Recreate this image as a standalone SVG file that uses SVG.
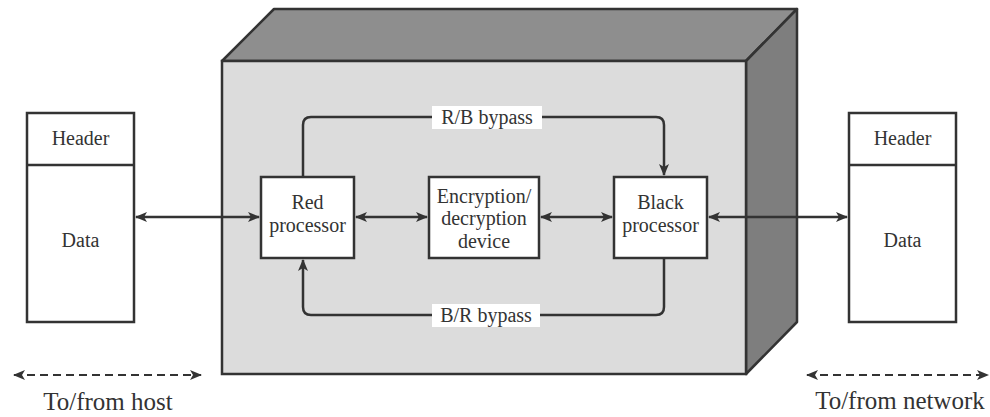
<svg xmlns="http://www.w3.org/2000/svg" width="990" height="417" viewBox="0 0 990 417">
<style>
.t{font-family:"Liberation Serif","Times New Roman",serif;font-size:20px;fill:#333;text-anchor:middle}
.big{font-size:25px}
.box{fill:#fff;stroke:#333;stroke-width:2.5}
.ln{fill:none;stroke:#333;stroke-width:2.5}
.dash{fill:none;stroke:#333;stroke-width:2.2;stroke-dasharray:8 5}
</style>
<defs>
<marker id="ah" viewBox="0 0 12 10" refX="11" refY="5" markerWidth="12" markerHeight="10" markerUnits="userSpaceOnUse" orient="auto-start-reverse">
<path d="M0,0 L12,5 L0,10 L3,5 Z" fill="#333"/>
</marker>
</defs>
<rect width="990" height="417" fill="#fff"/>
<g id="enclosure">
<polygon points="222,61 274,9 797,9 746,61" fill="#8e8e8e" stroke="#333" stroke-width="2.5" stroke-linejoin="round"/>
<polygon points="746,61 797,9 797,322 746,374" fill="#7e7e7e" stroke="#333" stroke-width="2.5" stroke-linejoin="round"/>
<rect x="222" y="61" width="524" height="313" fill="#dcdcdc" stroke="#333" stroke-width="2.5"/>
</g>
<g id="connectors">
<path class="ln" d="M303,177 V125 Q303,117 311,117 H656 Q664,117 664,125 V175" marker-end="url(#ah)"/>
<path class="ln" d="M664,258 V307 Q664,315 656,315 H311 Q303,315 303,307 V260" marker-end="url(#ah)"/>
<line class="ln" x1="136" y1="217" x2="259" y2="217" marker-start="url(#ah)" marker-end="url(#ah)"/>
<line class="ln" x1="356" y1="217" x2="427" y2="217" marker-start="url(#ah)" marker-end="url(#ah)"/>
<line class="ln" x1="541" y1="217" x2="612" y2="217" marker-start="url(#ah)" marker-end="url(#ah)"/>
<line class="ln" x1="709" y1="217" x2="847" y2="217" marker-start="url(#ah)" marker-end="url(#ah)"/>
<line class="dash" x1="14" y1="375" x2="201" y2="375" marker-start="url(#ah)" marker-end="url(#ah)"/>
<line class="dash" x1="807" y1="375" x2="988" y2="375" marker-start="url(#ah)" marker-end="url(#ah)"/>
<rect x="432" y="106" width="110" height="23" fill="#fff"/>
<text class="t" x="487" y="124">R/B bypass</text>
<rect x="432" y="304" width="108" height="23" fill="#fff"/>
<text class="t" x="486" y="322">B/R bypass</text>
</g>
<g id="host-packet">
<rect class="box" x="27" y="113" width="107" height="209"/>
<line class="ln" x1="27" y1="165" x2="134" y2="165"/>
<text class="t" x="80.5" y="145">Header</text>
<text class="t" x="80.5" y="247">Data</text>
</g>
<g id="network-packet">
<rect class="box" x="849" y="113" width="107" height="209"/>
<line class="ln" x1="849" y1="165" x2="956" y2="165"/>
<text class="t" x="902.5" y="145">Header</text>
<text class="t" x="902.5" y="247">Data</text>
</g>
<g id="red-processor">
<rect class="box" x="261" y="177" width="93" height="81"/>
<text class="t" x="307.5" y="209">Red</text>
<text class="t" x="307.5" y="232">processor</text>
</g>
<g id="encryption-device">
<rect class="box" x="429" y="177" width="110" height="81"/>
<text class="t" x="484" y="203">Encryption/</text>
<text class="t" x="484" y="225">decryption</text>
<text class="t" x="484" y="248">device</text>
</g>
<g id="black-processor">
<rect class="box" x="614" y="177" width="93" height="81"/>
<text class="t" x="660.5" y="209">Black</text>
<text class="t" x="660.5" y="232">processor</text>
</g>
<g id="labels">
<text class="t big" x="108" y="410">To/from host</text>
<text class="t big" x="900" y="409">To/from network</text>
</g>
</svg>
